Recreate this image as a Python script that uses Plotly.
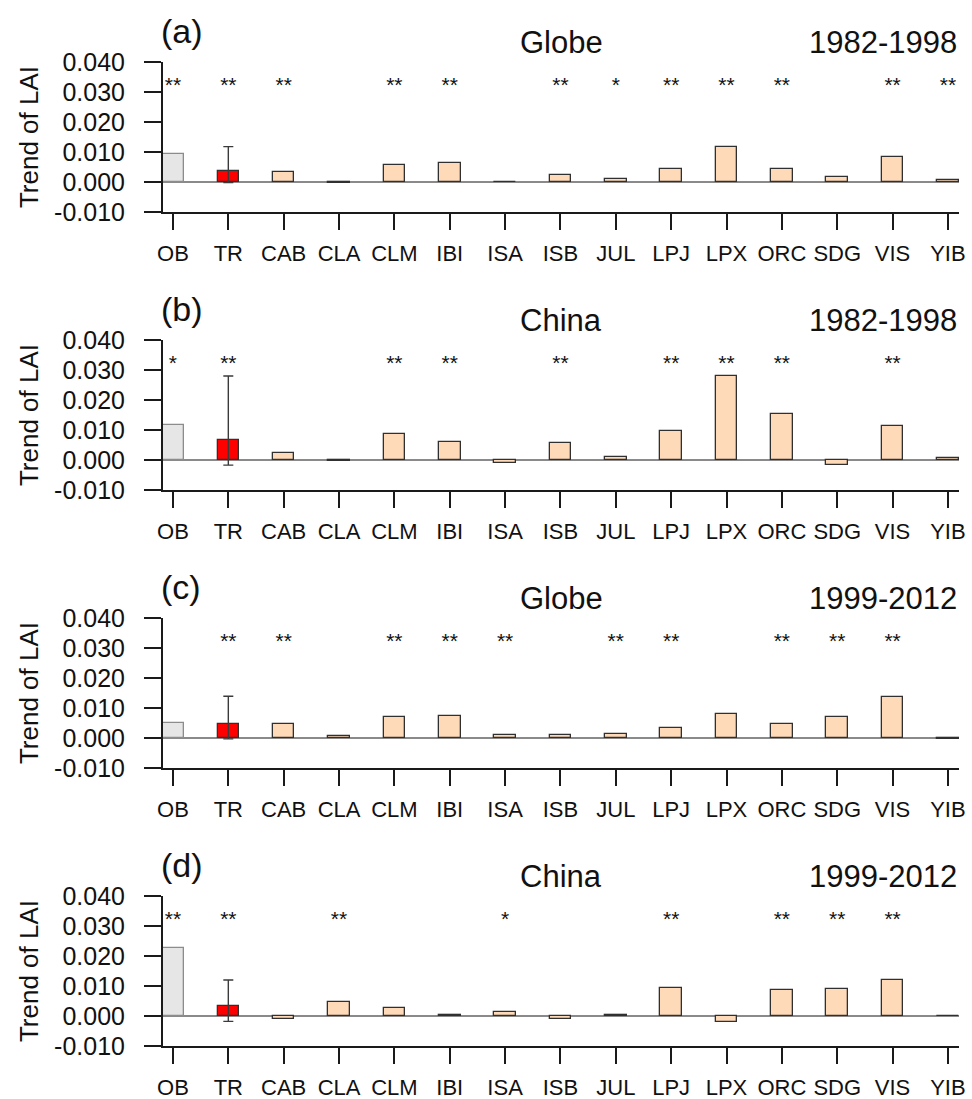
import plotly.graph_objects as go

# Model / observation labels along the x axis
models = ["OB", "TR", "CAB", "CLA", "CLM", "IBI", "ISA", "ISB", "JUL",
          "LPJ", "LPX", "ORC", "SDG", "VIS", "YIB"]

# LAI trends per panel
trend_a = [0.0092, 0.0038, 0.0034, -0.0002, 0.0058, 0.0063, -0.0001, 0.0023,
           0.0009, 0.0042, 0.0117, 0.0042, 0.0016, 0.0083, 0.0007]
trend_b = [0.0116, 0.0066, 0.0023, -0.0004, 0.0088, 0.0059, -0.0009, 0.0057,
           0.0011, 0.0096, 0.0280, 0.0152, -0.0018, 0.0112, 0.0007]
trend_c = [0.0049, 0.0047, 0.0047, 0.0008, 0.0071, 0.0074, 0.0011, 0.0011,
           0.0014, 0.0032, 0.0080, 0.0046, 0.0070, 0.0138, -0.0002]
trend_d = [0.0228, 0.0034, -0.0010, 0.0047, 0.0026, 0.0003, 0.0014, -0.0010,
           0.0003, 0.0094, -0.0019, 0.0086, 0.0089, 0.0120, 0.0000]

# Ensemble (TR) spread: lowest and highest model trend
tr_low = [-0.0002, -0.0017, -0.0003, -0.0018]
tr_high = [0.0118, 0.0280, 0.0139, 0.0120]

# Significance markers
sig_a = ["**", "**", "**", "", "**", "**", "", "**", "*", "**", "**", "**", "", "**", "**"]
sig_b = ["*", "**", "", "", "**", "**", "", "**", "", "**", "**", "**", "", "**", ""]
sig_c = ["", "**", "**", "", "**", "**", "**", "", "**", "**", "", "**", "**", "**", ""]
sig_d = ["**", "**", "", "**", "", "", "*", "", "", "**", "", "**", "**", "**", ""]

panel_tags = ["(a)", "(b)", "(c)", "(d)"]
regions = ["Globe", "China", "Globe", "China"]
periods = ["1982-1998", "1982-1998", "1999-2012", "1999-2012"]

y_ticks = [-0.01, 0.0, 0.01, 0.02, 0.03, 0.04]
y_ticktext = ["-0.010", "0.000", "0.010", "0.020", "0.030", "0.040"]

W, H = 972, 1099
FONT = "Liberation Sans, Arial, Helvetica, sans-serif"
AXC = "#1a1a1a"
STAR_Y = 0.0318

bar_colors = ["#e6e6e6", "#ff0000"] + ["#ffdab9"] * 13
edge_colors = ["#8c8c8c", "#303030"] + ["#303030"] * 13

plot_left, plot_right = 163, 959
panel_tops = [62, 340, 618, 896]
panel_h = 150

fig = go.Figure()
series = [trend_a, trend_b, trend_c, trend_d]
sigs = [sig_a, sig_b, sig_c, sig_d]
xs = list(range(len(models)))

annotations = []
for i in range(4):
    sfx = "" if i == 0 else str(i + 1)
    xa, ya = "x" + sfx, "y" + sfx
    vals = series[i]

    fig.add_trace(go.Bar(
        x=xs, y=vals, width=0.39, xaxis=xa, yaxis=ya,
        marker=dict(color=bar_colors, line=dict(color=edge_colors, width=1.3)),
        showlegend=False, hoverinfo="skip",
    ))
    # whisker for the ensemble spread on TR
    fig.add_trace(go.Scatter(
        x=[1], y=[vals[1]], mode="markers", xaxis=xa, yaxis=ya,
        marker=dict(size=1, opacity=0),
        error_y=dict(type="data", symmetric=False,
                     array=[tr_high[i] - vals[1]],
                     arrayminus=[vals[1] - tr_low[i]],
                     color="#3a3a3a", thickness=1.4, width=5),
        showlegend=False, hoverinfo="skip",
    ))
    # significance stars
    fig.add_trace(go.Scatter(
        x=xs, y=[STAR_Y] * len(xs), text=sigs[i], mode="text",
        xaxis=xa, yaxis=ya, textposition="middle center",
        textfont=dict(family=FONT, size=21, color="#111111"),
        showlegend=False, hoverinfo="skip",
    ))

    top = panel_tops[i]
    bottom = top + panel_h
    dom_y = [1 - bottom / H, 1 - top / H]
    fig.update_layout(**{
        "xaxis" + sfx: dict(
            domain=[plot_left / W, plot_right / W], anchor=ya,
            range=[-0.18, 14.2], tickvals=xs, ticktext=models,
            ticks="outside", ticklen=16, tickwidth=2, tickcolor=AXC,
            ticklabelstandoff=5,
            showline=True, linewidth=2, linecolor=AXC,
            showgrid=False, zeroline=False, automargin=False,
            tickfont=dict(family=FONT, size=22, color="#111111"),
            fixedrange=True,
        ),
        "yaxis" + sfx: dict(
            domain=dom_y, anchor=xa,
            range=[-0.01, 0.04], tickvals=y_ticks, ticktext=y_ticktext,
            ticks="outside", ticklen=17, tickwidth=2, tickcolor=AXC,
            ticklabelstandoff=14,
            showline=True, linewidth=2, linecolor=AXC,
            showgrid=False, zeroline=True, zerolinecolor="#8a8a8a",
            zerolinewidth=1.6, automargin=False,
            tickfont=dict(family=FONT, size=25, color="#111111"),
            title=dict(text="Trend of LAI", standoff=8,
                       font=dict(family=FONT, size=26, color="#111111")),
            fixedrange=True,
        ),
    })

    y_top = 1 - top / H
    annotations.append(dict(
        text=panel_tags[i], xref="paper", yref="paper",
        x=159 / W, y=y_top + 10 / H, xanchor="left", yanchor="bottom",
        showarrow=False, font=dict(family=FONT, size=34, color="#111111"),
    ))
    annotations.append(dict(
        text=regions[i], xref="paper", yref="paper",
        x=(plot_left + plot_right) / 2 / W, y=y_top, xanchor="center",
        yanchor="bottom", showarrow=False,
        font=dict(family=FONT, size=31, color="#111111"),
    ))
    annotations.append(dict(
        text=periods[i], xref="paper", yref="paper",
        x=plot_right / W, y=y_top, xanchor="right", yanchor="bottom",
        showarrow=False, font=dict(family=FONT, size=31, color="#111111"),
    ))

fig.update_layout(
    width=W, height=H,
    margin=dict(l=0, r=0, t=0, b=0),
    paper_bgcolor="white", plot_bgcolor="white",
    annotations=annotations, bargap=0,
    font=dict(family=FONT, color="#111111"),
)

fig.write_html("out.html", config={"displayModeBar": False})
